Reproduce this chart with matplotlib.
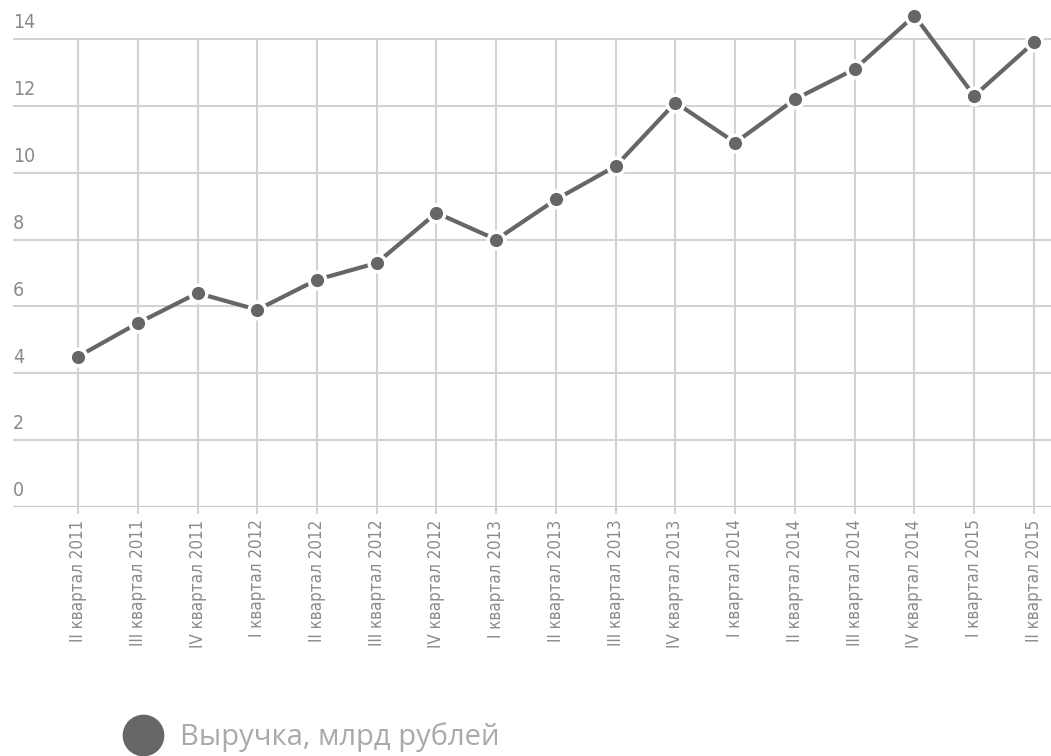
import matplotlib
matplotlib.use("Agg")
from matplotlib import pyplot as plt
from matplotlib.lines import Line2D
import matplotlib.transforms as mtransforms

# quarters and revenue (bn rub)
quarters = ["II квартал 2011", "III квартал 2011", "IV квартал 2011",
            "I квартал 2012", "II квартал 2012", "III квартал 2012", "IV квартал 2012",
            "I квартал 2013", "II квартал 2013", "III квартал 2013", "IV квартал 2013",
            "I квартал 2014", "II квартал 2014", "III квартал 2014", "IV квартал 2014",
            "I квартал 2015", "II квартал 2015"]
revenue = [4.5, 5.5, 6.4, 5.9, 6.8, 7.3, 8.8, 8.0, 9.2, 10.2, 12.1, 10.9, 12.2, 13.1, 14.7, 12.3, 13.9]
y_ticks = [0, 2, 4, 6, 8, 10, 12, 14]
legend_label = "Выручка, млрд рублей"

grid_col = "#d2d2d2"
line_col = "#666666"
text_col = "#8a8a8a"

fig = plt.figure(figsize=(10.51, 7.56), dpi=100)
ax = fig.add_axes([13 / 1051, 1 - 507 / 756, 1 - 13 / 1051, 501.4 / 756])

x = list(range(len(quarters)))
ax.set_xlim(-1.088, len(quarters) - 1 + 0.285)
ax.set_ylim(0, 15)

# grid
trans = mtransforms.blended_transform_factory(ax.transAxes, ax.transData)
for v in y_ticks:
    ax.axhline(v, color=grid_col if v else "#c8c8c8", lw=1.5, zorder=1)
    ax.text(0, v + 0.2, str(v), transform=trans, ha="left", va="bottom",
            fontsize=14, color=text_col, family="DejaVu Sans", stretch="condensed")
ax.vlines(x, 0, 14, color=grid_col, lw=1.5, zorder=1)

ax.plot(x, revenue, color=line_col, lw=3, marker="o", ms=12,
        mfc=line_col, mec="white", mew=2.5, zorder=3, clip_on=False)

for s in ax.spines.values():
    s.set_visible(False)
ax.set_yticks([])
ax.set_xticks(x)
ax.set_xticklabels(quarters, rotation=90, fontsize=12.2, color=text_col,
                   family="DejaVu Sans", stretch="condensed")
ax.tick_params(axis="x", length=5, width=1.5, color=grid_col, pad=4)

handle = Line2D([], [], marker="o", ls="none", ms=29, color=line_col)
fig.legend([handle], [legend_label], loc="center left", bbox_to_anchor=(98 / 1051, 1 - 737 / 756),
           frameon=False, labelcolor="#aaaaaa", handlelength=1.3, handletextpad=0.6,
           prop={"family": ["Open Sans", "DejaVu Sans"], "size": 21})

fig.savefig("out.png", dpi=100)
